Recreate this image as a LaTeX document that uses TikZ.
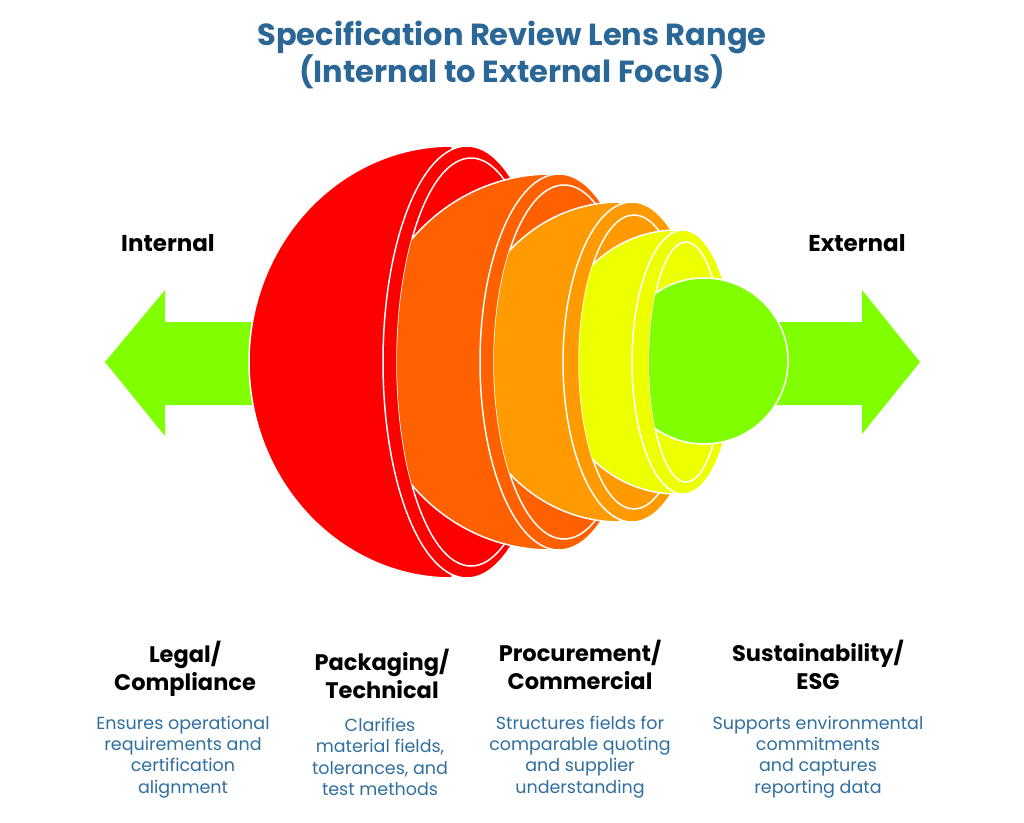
\documentclass[tikz,border=0pt]{standalone}
\usepackage{fontspec}
\setmainfont{Poppins}
\definecolor{cred}{HTML}{FF0000}
\definecolor{corange}{HTML}{FF6000}
\definecolor{camber}{HTML}{FF9A00}
\definecolor{cyellow}{HTML}{EEFF00}
\definecolor{cgreen}{HTML}{80FF00}
\definecolor{ctitle}{HTML}{2A6796}
\definecolor{cdesc}{HTML}{2F6FA0}
\newcommand{\halflens}[4]{% color, topx, ry, rxL
  \fill[#1,draw=white,line width=1.5pt] (#2,362-#3) arc[start angle=90,end angle=270,x radius=#4 pt,y radius=#3 pt] -- cycle;}
\newcommand{\rim}[6]{% color, rimcx, rimrx, ry, incx, inrx/inry
  \fill[#1,draw=white,line width=1.5pt] (#2,362) ellipse[x radius=#3 pt,y radius=#4 pt];
  \draw[white,line width=1.5pt] (#5,362) ellipse[#6];}
\newcommand{\prevclip}[3]{% cx, rx, ry
  \clip (#1,0) -- (#1,362-#3) arc[start angle=90,end angle=270,x radius=#2 pt,y radius=#3 pt] -- (#1,822) -- (1024,822) -- (1024,0) -- cycle;}
\begin{document}
\begin{tikzpicture}[x=1pt,y=-1pt,
  title/.style={font=\fontsize{30.5}{36}\selectfont\bfseries, text=ctitle, align=center},
  side/.style={font=\fontsize{23}{26}\selectfont\bfseries},
  head/.style={font=\fontsize{22.5}{28}\selectfont\bfseries, align=center},
  desc/.style={font=\fontsize{17.5}{21.3}\selectfont, text=cdesc, align=center}]
\useasboundingbox (0,0) rectangle (1024,822);
% arrows
\fill[cgreen] (105,362) -- (165,290) -- (165,322) -- (260,322) -- (260,405) -- (165,405) -- (165,436) -- cycle;
\fill[cgreen] (920,362) -- (862,290) -- (862,322) -- (770,322) -- (770,405) -- (862,405) -- (862,434) -- cycle;
% red
\halflens{cred}{452}{216}{203}
\rim{cred}{467}{84}{216}{471}{x radius=74pt,y radius=204pt}
% orange
\begin{scope}\prevclip{471}{74}{204}\halflens{corange}{551}{188}{184}\end{scope}
\rim{corange}{559}{79}{188}{564}{x radius=70pt,y radius=177pt}
% amber
\begin{scope}\prevclip{564}{70}{177}\halflens{camber}{620}{160}{154}\end{scope}
\rim{camber}{632}{69}{160}{634}{x radius=55pt,y radius=147pt}
% yellow
\begin{scope}\prevclip{634}{55}{147}\halflens{cyellow}{677}{132}{125}\end{scope}
\rim{cyellow}{683}{51}{132}{686}{x radius=37pt,y radius=120pt}
% green
\begin{scope}\prevclip{686}{37}{120}
\fill[cgreen,draw=white,line width=1.5pt] (704,361) ellipse[x radius=84pt,y radius=83pt];
\end{scope}
% texts
\node[title] (title) at (512,55) {Specification Review Lens Range\\(Internal to External Focus)};
\node[side] (internal) at (168,243) {Internal};
\node[side] (external) at (857,243) {External};
\node[head] (h1) at (185,669) {Legal/\\Compliance};
\node[head] (h2) at (382,674) {Packaging/\\Technical};
\node[head] (h3) at (580,665) {Procurement/\\Commercial};
\node[head] (h4) at (818,665) {Sustainability/\\ESG};
\node[desc] (d1) at (183,757) {Ensures operational\\requirements and\\certification\\alignment};
\node[desc] (d2) at (380,757) {Clarifies\\material fields,\\tolerances, and\\test methods};
\node[desc] (d3) at (580,757) {Structures fields for\\comparable quoting\\and supplier\\understanding};
\node[desc] (d4) at (818,757) {Supports environmental\\commitments\\and captures\\reporting data};
\end{tikzpicture}
\end{document}
